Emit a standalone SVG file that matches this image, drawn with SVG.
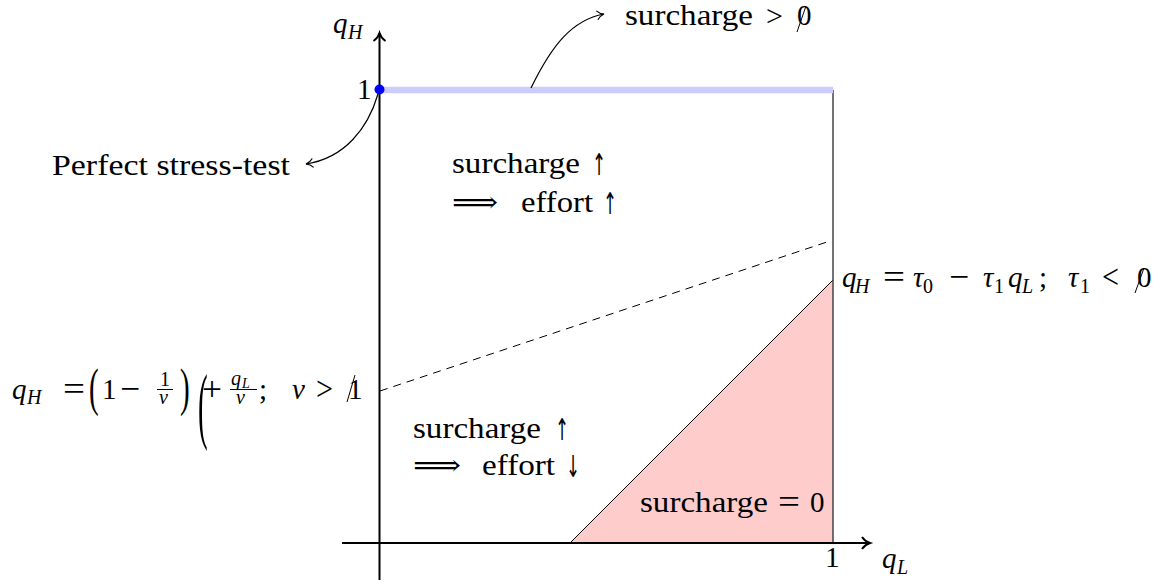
<svg xmlns="http://www.w3.org/2000/svg" width="1165" height="588" viewBox="0 0 1165 588">
<defs>
<style>
text{font-family:"Liberation Serif","DejaVu Serif",serif;font-size:29px;fill:#000}
.it{font-style:italic}
.sub{font-size:20px}
.sm{font-size:20px}
.arr{font-family:"DejaVu Sans",sans-serif;font-size:30px}
.rel{font-size:34px}
.ax{stroke:#000;stroke-width:2;fill:none}
.conn{stroke:#000;stroke-width:1.2;fill:none}
.slash{stroke:#000;stroke-width:1;fill:none}
</style>
<marker id="to" markerUnits="userSpaceOnUse" orient="auto" overflow="visible" markerWidth="10" markerHeight="10" refX="0" refY="0">
<path d="M-7,-4.5 C-5,-2 -2,-0.5 0,0 C-2,0.5 -5,2 -7,4.5" fill="none" stroke="#000" stroke-width="1.2"/>
</marker>
<marker id="axto" markerUnits="userSpaceOnUse" orient="auto" overflow="visible" markerWidth="12" markerHeight="12" refX="0" refY="0">
<path d="M-8,-6 C-6,-3 -2.5,-0.8 0,0 C-2.5,0.8 -6,3 -8,6" fill="none" stroke="#000" stroke-width="2"/>
</marker>
</defs>
<rect width="1165" height="588" fill="#fff"/>

<g id="regions">
<polygon points="570,543 833,543 833,280" fill="#ffcccc" stroke="none"/>
<line x1="570" y1="543" x2="833" y2="280" stroke="#000" stroke-width="1"/>
<line x1="833" y1="90" x2="833" y2="543" stroke="#444" stroke-width="1.5"/>
<line x1="380" y1="90" x2="833" y2="90" stroke="#ccccff" stroke-width="6.5"/>
<line x1="380" y1="391" x2="827" y2="242" stroke="#000" stroke-width="1" stroke-dasharray="8 6"/>
</g>

<g id="axes">
<line class="ax" x1="342" y1="543" x2="870" y2="543" marker-end="url(#axto)"/>
<line class="ax" x1="379.5" y1="580" x2="379.5" y2="33" marker-end="url(#axto)"/>
<circle cx="379.5" cy="89.5" r="5" fill="#0000ff"/>
</g>

<g id="connectors">
<path class="conn" d="M531,88 C552,45 572,20 604,14" marker-end="url(#to)"/>
<path class="conn" d="M378,94 C368,128 345,158 306,164" marker-end="url(#to)"/>
</g>

<g id="label-qH">
<text class="it" x="333" y="33">q</text>
<text class="it sub" x="348" y="39">H</text>
</g>
<g id="label-qL">
<text class="it" x="882" y="568">q</text>
<text class="it sub" x="897" y="574">L</text>
</g>
<g id="tick-y1"><text x="357" y="99">1</text></g>
<g id="tick-x1"><text x="825" y="567">1</text></g>

<g id="label-surcharge-pos">
<text x="625" y="25" textLength="128" lengthAdjust="spacingAndGlyphs">surcharge</text>
<text x="766" y="26" textLength="17" lengthAdjust="spacingAndGlyphs">&gt;</text>
<text x="797" y="25">0</text>
<line class="slash" x1="797" y1="32" x2="806" y2="6"/>
</g>

<g id="label-perfect">
<text x="52" y="175" textLength="238" lengthAdjust="spacingAndGlyphs">Perfect stress-test</text>
</g>

<g id="label-upper-region">
<text x="452" y="173" textLength="128" lengthAdjust="spacingAndGlyphs">surcharge</text>
<text class="arr" x="592" y="175" textLength="14" lengthAdjust="spacingAndGlyphs">↑</text>
<text x="452" y="212" textLength="46" lengthAdjust="spacingAndGlyphs">⟹</text>
<text x="521" y="212" textLength="72" lengthAdjust="spacingAndGlyphs">effort</text>
<text class="arr" x="603" y="214" textLength="14" lengthAdjust="spacingAndGlyphs">↑</text>
</g>

<g id="label-lower-region">
<text x="413" y="438" textLength="128" lengthAdjust="spacingAndGlyphs">surcharge</text>
<text class="arr" x="555" y="440" textLength="14" lengthAdjust="spacingAndGlyphs">↑</text>
<text x="413" y="475" textLength="48" lengthAdjust="spacingAndGlyphs">⟹</text>
<text x="482" y="475" textLength="73" lengthAdjust="spacingAndGlyphs">effort</text>
<text class="arr" x="566" y="477" textLength="14" lengthAdjust="spacingAndGlyphs">↓</text>
</g>

<g id="label-zero">
<text x="640" y="512" textLength="128" lengthAdjust="spacingAndGlyphs">surcharge</text>
<text class="rel" x="778" y="513" textLength="22" lengthAdjust="spacingAndGlyphs">=</text>
<text x="810" y="512">0</text>
</g>

<g id="label-tau-line">
<text class="it" x="842" y="287">q</text>
<text class="it sub" x="855" y="293">H</text>
<text class="rel" x="883" y="288" textLength="22" lengthAdjust="spacingAndGlyphs">=</text>
<text class="it" x="913" y="287">τ</text>
<text class="sub" x="923" y="293">0</text>
<text class="rel" x="949" y="288" textLength="20" lengthAdjust="spacingAndGlyphs">−</text>
<text class="it" x="983" y="287">τ</text>
<text class="sub" x="994" y="293">1</text>
<text class="it" x="1008" y="287">q</text>
<text class="it sub" x="1022" y="293">L</text>
<text x="1039" y="287">;</text>
<text class="it" x="1068" y="287">τ</text>
<text class="sub" x="1080" y="293">1</text>
<text class="rel" x="1102" y="288" textLength="17" lengthAdjust="spacingAndGlyphs">&lt;</text>
<text x="1137" y="287">0</text>
<line class="slash" x1="1135" y1="293" x2="1144" y2="268"/>
</g>

<g id="label-nu-line">
<text class="it" x="12" y="399">q</text>
<text class="it sub" x="27" y="404">H</text>
<text class="rel" x="63" y="400" textLength="22" lengthAdjust="spacingAndGlyphs">=</text>
<text transform="translate(89,405) scale(1,1.85)">(</text>
<text x="102" y="399">1</text>
<text class="rel" x="120" y="400" textLength="20" lengthAdjust="spacingAndGlyphs">−</text>
<text class="sm" x="160" y="386">1</text>
<line x1="157" y1="389.5" x2="173" y2="389.5" stroke="#000" stroke-width="1"/>
<text class="it sm" x="159" y="404">ν</text>
<text transform="translate(180,405) scale(1,1.85)">)</text>
<text transform="translate(198,433) scale(1,2.9)">(</text>
<text class="rel" x="202" y="400" textLength="20" lengthAdjust="spacingAndGlyphs">+</text>
<text class="it sm" x="231" y="385">q</text>
<text class="it" style="font-size:14px" x="242" y="388">L</text>
<line x1="230" y1="389.5" x2="257" y2="389.5" stroke="#000" stroke-width="1"/>
<text class="it sm" x="236" y="404">ν</text>
<text x="259" y="399">;</text>
<text class="it" x="292" y="399">ν</text>
<text class="rel" x="316" y="400" textLength="17" lengthAdjust="spacingAndGlyphs">&gt;</text>
<text x="348" y="399">1</text>
<line class="slash" x1="347" y1="402" x2="355" y2="375"/>
</g>
</svg>
